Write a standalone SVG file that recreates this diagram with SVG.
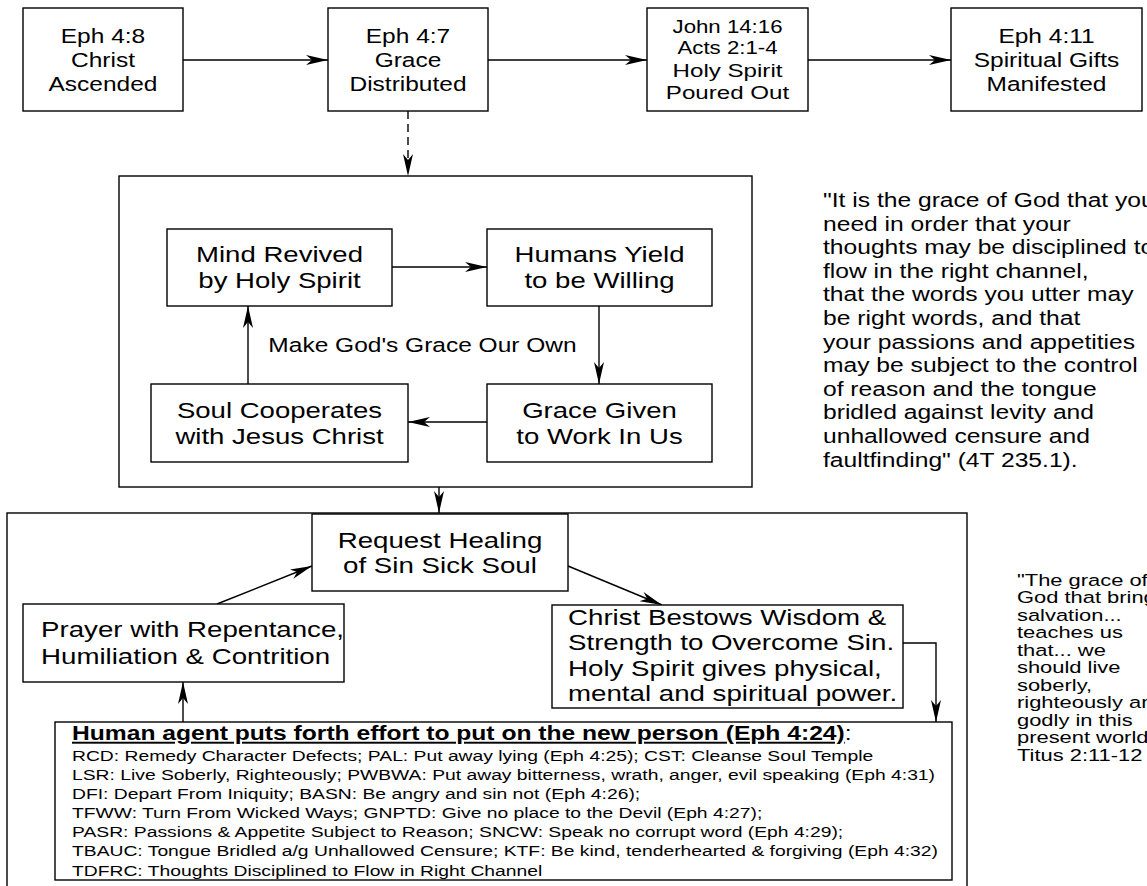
<svg xmlns="http://www.w3.org/2000/svg" width="1147" height="886" viewBox="0 0 1147 886">
<style>
.t{font-family:"Liberation Sans",Arial,sans-serif;fill:#000}
.c{text-anchor:middle}
.box{fill:#fff;stroke:#000;stroke-width:1.4}
.cl{fill:none;stroke:#000;stroke-width:1.4}
.edge{fill:none;stroke:#000;stroke-width:1.4}
.f19{font-size:19.3px}
.f17{font-size:17.5px}
.f21{font-size:21.8px}
.fq{font-size:19.4px}
.fl{font-size:15.2px}
.fr{font-size:16.6px}
</style>
<defs>
<marker id="ah" markerUnits="userSpaceOnUse" markerWidth="24" markerHeight="12" refX="22" refY="6" orient="auto">
<path d="M0,1 L22,6 L0,11 L6,6 Z" fill="#000"/>
</marker>
</defs>
<rect width="1147" height="886" fill="#fff"/>

<g id="cluster-grace">
<rect class="cl" x="119" y="176" width="633" height="311"/>
<text class="t c" transform="matrix(1.27 0 0 1 422.5 0)" style="font-size:19.3px"><tspan x="0" y="352">Make God's Grace Our Own</tspan></text>
</g>
<g id="cluster-healing">
<rect class="cl" x="7" y="513" width="960" height="400"/>
</g>

<g id="connectors">
<line class="edge" x1="183" y1="60" x2="328" y2="60" marker-end="url(#ah)"/>
<line class="edge" x1="488" y1="60" x2="647" y2="60" marker-end="url(#ah)"/>
<line class="edge" x1="808" y1="60" x2="951" y2="60" marker-end="url(#ah)"/>
<line class="edge" x1="408" y1="111" x2="408" y2="176" stroke-dasharray="8,5" marker-end="url(#ah)"/>
<line class="edge" x1="392" y1="267" x2="487" y2="267" marker-end="url(#ah)"/>
<line class="edge" x1="599" y1="306" x2="599" y2="384" marker-end="url(#ah)"/>
<line class="edge" x1="487" y1="422" x2="408" y2="422" marker-end="url(#ah)"/>
<line class="edge" x1="248" y1="384" x2="248" y2="306" marker-end="url(#ah)"/>
<line class="edge" x1="439" y1="487" x2="439" y2="513" marker-end="url(#ah)"/>
<line class="edge" x1="217" y1="604" x2="312" y2="566" marker-end="url(#ah)"/>
<line class="edge" x1="568" y1="566" x2="662" y2="605" marker-end="url(#ah)"/>
<polyline class="edge" points="903,643 936,643 936,722" marker-end="url(#ah)"/>
<line class="edge" x1="183" y1="722" x2="183" y2="682" marker-end="url(#ah)"/>
</g>

<g id="n-eph48">
<rect class="box" x="23" y="8" width="160" height="103"/>
<text class="t c f19" transform="matrix(1.27 0 0 1 103 0)"><tspan x="0" y="43">Eph 4:8</tspan><tspan x="0" y="67">Christ</tspan><tspan x="0" y="91">Ascended</tspan></text>
</g>
<g id="n-eph47">
<rect class="box" x="328" y="8" width="160" height="103"/>
<text class="t c f19" transform="matrix(1.27 0 0 1 408 0)"><tspan x="0" y="43">Eph 4:7</tspan><tspan x="0" y="67">Grace</tspan><tspan x="0" y="91">Distributed</tspan></text>
</g>
<g id="n-john">
<rect class="box" x="647" y="8" width="161" height="103"/>
<text class="t c" transform="matrix(1.27 0 0 1 727.5 0)"><tspan class="f17" x="0" y="33">John 14:16</tspan><tspan class="f17" x="0" y="54">Acts 2:1-4</tspan><tspan x="0" y="77" style="font-size:19px">Holy Spirit</tspan><tspan x="0" y="99" style="font-size:19px">Poured Out</tspan></text>
</g>
<g id="n-eph411">
<rect class="box" x="951" y="8" width="191" height="103"/>
<text class="t c f19" transform="matrix(1.27 0 0 1 1046.5 0)"><tspan x="0" y="43">Eph 4:11</tspan><tspan x="0" y="67">Spiritual Gifts</tspan><tspan x="0" y="91">Manifested</tspan></text>
</g>

<g id="n-mind">
<rect class="box" x="167" y="229" width="225" height="77"/>
<text class="t c" transform="matrix(1.27 0 0 1 279.5 0)" style="font-size:21.7px"><tspan x="0" y="262">Mind Revived</tspan><tspan x="0" y="288">by Holy Spirit</tspan></text>
</g>
<g id="n-humans">
<rect class="box" x="487" y="229" width="225" height="77"/>
<text class="t c" transform="matrix(1.27 0 0 1 599.5 0)" style="font-size:21.7px"><tspan x="0" y="262">Humans Yield</tspan><tspan x="0" y="288">to be Willing</tspan></text>
</g>
<g id="n-soul">
<rect class="box" x="151" y="384" width="257" height="78"/>
<text class="t c" transform="matrix(1.27 0 0 1 279.5 0)" style="font-size:21.7px"><tspan x="0" y="418">Soul Cooperates</tspan><tspan x="0" y="444">with Jesus Christ</tspan></text>
</g>
<g id="n-gracegiven">
<rect class="box" x="487" y="384" width="225" height="78"/>
<text class="t c" transform="matrix(1.27 0 0 1 599.5 0)" style="font-size:21.7px"><tspan x="0" y="418">Grace Given</tspan><tspan x="0" y="444">to Work In Us</tspan></text>
</g>

<g id="quote-4t">
<text class="t fq" transform="matrix(1.27 0 0 1 823 0)">
<tspan x="0" y="207">"It is the grace of God that you</tspan>
<tspan x="0" y="230.6">need in order that your</tspan>
<tspan x="0" y="254.2">thoughts may be disciplined to</tspan>
<tspan x="0" y="277.8">flow in the right channel,</tspan>
<tspan x="0" y="301.4">that the words you utter may</tspan>
<tspan x="0" y="325">be right words, and that</tspan>
<tspan x="0" y="348.6">your passions and appetities</tspan>
<tspan x="0" y="372.2">may be subject to the control</tspan>
<tspan x="0" y="395.8">of reason and the tongue</tspan>
<tspan x="0" y="419.4">bridled against levity and</tspan>
<tspan x="0" y="443">unhallowed censure and</tspan>
<tspan x="0" y="466.6">faultfinding" (4T 235.1).</tspan>
</text>
</g>

<g id="n-request">
<rect class="box" x="312" y="514" width="256" height="77"/>
<text class="t c f21" transform="matrix(1.27 0 0 1 440 0)"><tspan x="0" y="548">Request Healing</tspan><tspan x="0" y="573">of Sin Sick Soul</tspan></text>
</g>
<g id="n-prayer">
<rect class="box" x="23" y="604" width="321" height="78"/>
<text class="t f21" transform="matrix(1.27 0 0 1 41 0)"><tspan x="0" y="637">Prayer with Repentance,</tspan><tspan x="0" y="664">Humiliation &amp; Contrition</tspan></text>
</g>
<g id="n-christ">
<rect class="box" x="552" y="605" width="351" height="103"/>
<text class="t f21" transform="matrix(1.27 0 0 1 568 0)"><tspan x="0" y="625">Christ Bestows Wisdom &amp;</tspan><tspan x="0" y="650.5">Strength to Overcome Sin.</tspan><tspan x="0" y="676">Holy Spirit gives physical,</tspan><tspan x="0" y="701.5">mental and spiritual power.</tspan></text>
</g>
<g id="n-human">
<rect class="box" x="55" y="722" width="897" height="158"/>
<text class="t" transform="matrix(1.27 0 0 1 72 0)"><tspan x="0" y="740" style="font-size:19.4px;font-weight:bold;text-decoration:underline">Human agent puts forth effort to put on the new person (Eph 4:24)</tspan><tspan style="font-size:19.4px">:</tspan></text>
<text class="t fl" transform="matrix(1.27 0 0 1 72 0)">
<tspan x="0" y="761">RCD: Remedy Character Defects; PAL: Put away lying (Eph 4:25); CST: Cleanse Soul Temple</tspan>
<tspan x="0" y="780.1">LSR: Live Soberly, Righteously; PWBWA: Put away bitterness, wrath, anger, evil speaking (Eph 4:31)</tspan>
<tspan x="0" y="799.2">DFI: Depart From Iniquity; BASN: Be angry and sin not (Eph 4:26);</tspan>
<tspan x="0" y="818.3">TFWW: Turn From Wicked Ways; GNPTD: Give no place to the Devil (Eph 4:27);</tspan>
<tspan x="0" y="837.4">PASR: Passions &amp; Appetite Subject to Reason; SNCW: Speak no corrupt word (Eph 4:29);</tspan>
<tspan x="0" y="856.5">TBAUC: Tongue Bridled a/g Unhallowed Censure; KTF: Be kind, tenderhearted &amp; forgiving (Eph 4:32)</tspan>
<tspan x="0" y="875.6">TDFRC: Thoughts Disciplined to Flow in Right Channel</tspan>
</text>
</g>

<g id="quote-titus">
<text class="t fr" transform="matrix(1.32 0 0 1 1017 0)">
<tspan x="0" y="586">"The grace of</tspan>
<tspan x="0" y="603.5">God that brings</tspan>
<tspan x="0" y="621">salvation...</tspan>
<tspan x="0" y="638.5">teaches us</tspan>
<tspan x="0" y="656">that... we</tspan>
<tspan x="0" y="673.5">should live</tspan>
<tspan x="0" y="691">soberly,</tspan>
<tspan x="0" y="708.5">righteously and</tspan>
<tspan x="0" y="726">godly in this</tspan>
<tspan x="0" y="743.5">present world"</tspan>
<tspan x="0" y="761">Titus 2:11-12</tspan>
</text>
</g>
</svg>
